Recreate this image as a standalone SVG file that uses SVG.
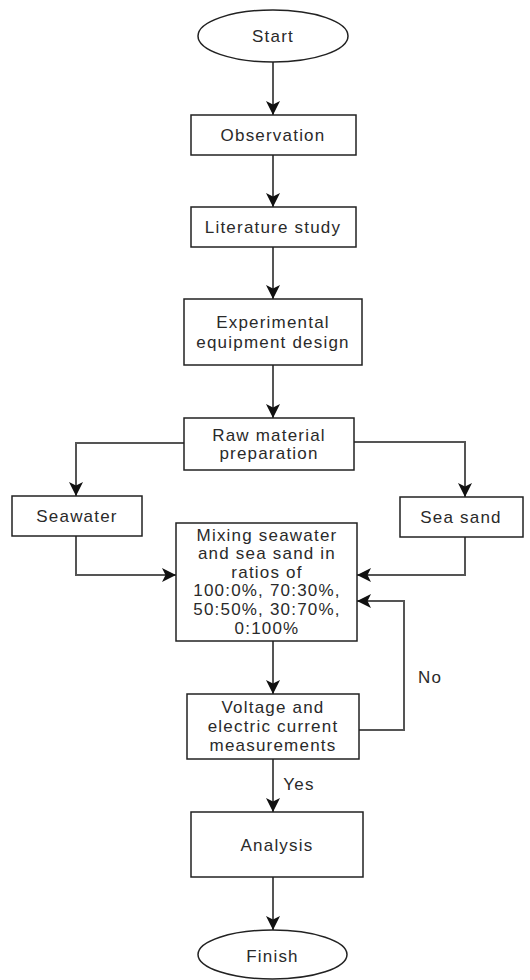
<svg xmlns="http://www.w3.org/2000/svg" width="530" height="980" viewBox="0 0 530 980">
<style>
.box{fill:#fff;stroke:#222;stroke-width:1.5}
.t{font-family:"Liberation Sans",Arial,sans-serif;font-size:17px;fill:#2a2a2a;text-anchor:middle;dominant-baseline:central;letter-spacing:1.2px}
.c{fill:none;stroke:#555;stroke-width:2}
</style>
<defs>
<marker id="ah" viewBox="0 0 14 14" refX="14" refY="7" markerWidth="14" markerHeight="14" markerUnits="userSpaceOnUse" orient="auto">
<path d="M0,0 L14,7 L0,14 L3.5,7 Z" fill="#111"/>
</marker>
</defs>
<rect width="530" height="980" fill="#fff"/>
<g id="connectors">
<path class="c" d="M273,62 V115" marker-end="url(#ah)"/>
<path class="c" d="M273,155 V207" marker-end="url(#ah)"/>
<path class="c" d="M273,247 V299" marker-end="url(#ah)"/>
<path class="c" d="M273,365 V418" marker-end="url(#ah)"/>
<path class="c" d="M184,443 H76 V496" marker-end="url(#ah)"/>
<path class="c" d="M354,442 H465 V497" marker-end="url(#ah)"/>
<path class="c" d="M76,536 V575 H176" marker-end="url(#ah)"/>
<path class="c" d="M465,537 V575 H357" marker-end="url(#ah)"/>
<path class="c" d="M273,641 V694" marker-end="url(#ah)"/>
<path class="c" d="M359,730 H404 V601 H357" marker-end="url(#ah)"/>
<path class="c" d="M273,759 V812" marker-end="url(#ah)"/>
<path class="c" d="M273,877 V930" marker-end="url(#ah)"/>
<text class="t" x="430" y="677">No</text>
<text class="t" x="299" y="784">Yes</text>
</g>
<g id="start"><ellipse class="box" cx="273" cy="36" rx="75" ry="26"/><text class="t" x="273" y="36">Start</text></g>
<g id="observation"><rect class="box" x="191" y="115" width="165" height="40"/><text class="t" x="273" y="135">Observation</text></g>
<g id="literature"><rect class="box" x="191" y="207" width="165" height="40"/><text class="t" x="273" y="227">Literature study</text></g>
<g id="experimental"><rect class="box" x="184" y="299" width="178" height="66"/><text class="t" x="273" y="322">Experimental</text><text class="t" x="273" y="342">equipment design</text></g>
<g id="raw"><rect class="box" x="184" y="418" width="170" height="52"/><text class="t" x="269" y="435">Raw material</text><text class="t" x="269" y="453">preparation</text></g>
<g id="seawater"><rect class="box" x="12" y="496" width="130" height="40"/><text class="t" x="77" y="516">Seawater</text></g>
<g id="seasand"><rect class="box" x="400" y="497" width="123" height="40"/><text class="t" x="461" y="517">Sea sand</text></g>
<g id="mixing"><rect class="box" x="176" y="523" width="181" height="118"/>
<text class="t" x="267" y="535">Mixing seawater</text>
<text class="t" x="267" y="553.6">and sea sand in</text>
<text class="t" x="267" y="572.2">ratios of</text>
<text class="t" x="267" y="590.8">100:0%, 70:30%,</text>
<text class="t" x="267" y="609.4">50:50%, 30:70%,</text>
<text class="t" x="267" y="628">0:100%</text></g>
<g id="voltage"><rect class="box" x="187" y="694" width="172" height="65"/>
<text class="t" x="273" y="707">Voltage and</text>
<text class="t" x="273" y="726">electric current</text>
<text class="t" x="273" y="745">measurements</text></g>
<g id="analysis"><rect class="box" x="191" y="812" width="172" height="65"/><text class="t" x="277" y="845">Analysis</text></g>
<g id="finish"><ellipse class="box" cx="272.5" cy="954.5" rx="74.5" ry="24.5"/><text class="t" x="272.5" y="956">Finish</text></g>
</svg>
